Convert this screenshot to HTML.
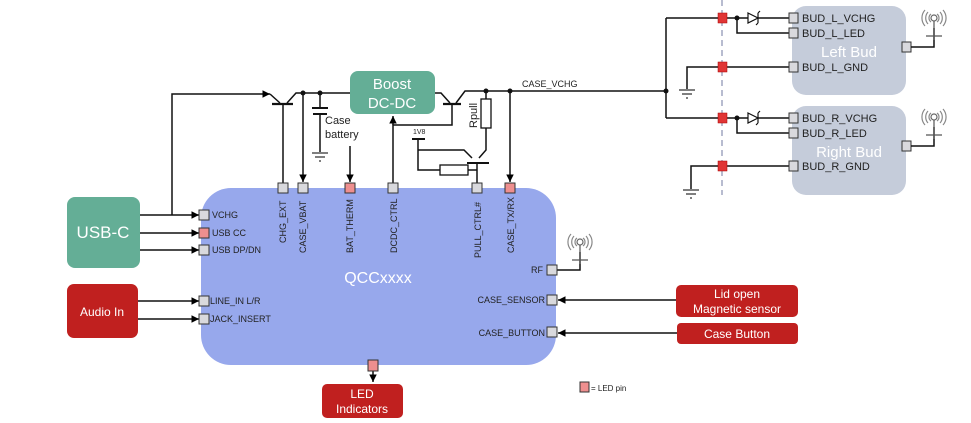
<!DOCTYPE html>
<html><head><meta charset="utf-8"><style>
html,body{margin:0;padding:0;background:#fff;}
svg{display:block;font-family:"Liberation Sans",Arial,sans-serif;}
</style></head><body>
<svg width="971" height="423" viewBox="0 0 971 423" xmlns="http://www.w3.org/2000/svg">
<defs>
<marker id="a" markerWidth="6" markerHeight="6" refX="5" refY="3" orient="auto"><path d="M0,0.5 L5,3 L0,5.5z" fill="#000"/></marker>
<g id="ant"><path d="M-6,-10 a9,9 0 0,0 0,12 M6,-10 a9,9 0 0,1 0,12 M-9,-12 a12,12 0 0,0 0,16 M9,-12 a12,12 0 0,1 0,16 M-3,-8 a5,5 0 0,0 0,8 M3,-8 a5,5 0 0,1 0,8" fill="none" stroke="#888" stroke-width="1.2"/><circle cx="0" cy="-4" r="3" fill="none" stroke="#666" stroke-width="1.2"/><path d="M0,-1 V18 M-8,14 H8" stroke="#555" stroke-width="1.2"/></g>
<g id="gnd"><path d="M-8,0 H8 M-5,4 H5 M-1,8 H1" stroke="#333" stroke-width="1.3"/></g>
</defs>
<style>
.w{stroke:#111;stroke-width:1.5;fill:none}
.p{fill:#d9d9dd;stroke:#333;stroke-width:1}
.r{fill:#ee8f8f;stroke:#333;stroke-width:1}
.rs{fill:#e03535;stroke:#a00;stroke-width:.5}
.t{font-size:9px;fill:#222}
.b{font-size:11px;fill:#222}
</style>

<line x1="722" y1="0" x2="722" y2="195" stroke="#b8bcd0" stroke-width="2" stroke-dasharray="6,4"/>

<rect x="792" y="6" width="114" height="89" rx="14" fill="#c5ccda"/>
<rect x="792" y="106" width="114" height="89" rx="14" fill="#c5ccda"/>
<text x="849" y="57" font-size="15" fill="#fff" text-anchor="middle">Left Bud</text>
<text x="849" y="157" font-size="15" fill="#fff" text-anchor="middle">Right Bud</text>

<rect x="201" y="188" width="355" height="177" rx="30" fill="#97a8ec"/>
<text x="378" y="283" font-size="16" fill="#fff" text-anchor="middle">QCCxxxx</text>

<rect x="67" y="197" width="73" height="71" rx="8" fill="#64ae96"/>
<text x="103" y="238" font-size="17" fill="#fff" text-anchor="middle">USB-C</text>
<rect x="67" y="284" width="71" height="54" rx="7" fill="#c0201f"/>
<text x="102" y="316" font-size="12" fill="#fff" text-anchor="middle">Audio In</text>
<rect x="322" y="384" width="81" height="34" rx="5" fill="#c0201f"/>
<text x="362" y="398" font-size="12" fill="#fff" text-anchor="middle">LED</text>
<text x="362" y="413" font-size="12" fill="#fff" text-anchor="middle">Indicators</text>
<rect x="676" y="285" width="122" height="32" rx="5" fill="#c0201f"/>
<text x="737" y="298" font-size="12" fill="#fff" text-anchor="middle">Lid open</text>
<text x="737" y="313" font-size="12" fill="#fff" text-anchor="middle">Magnetic sensor</text>
<rect x="677" y="323" width="121" height="21" rx="4" fill="#c0201f"/>
<text x="737" y="338" font-size="12" fill="#fff" text-anchor="middle">Case Button</text>
<rect x="350" y="71" width="85" height="43" rx="8" fill="#64ae96"/>
<text x="392" y="89" font-size="15" fill="#fff" text-anchor="middle">Boost</text>
<text x="392" y="108" font-size="15" fill="#fff" text-anchor="middle">DC-DC</text>

<path class="w" d="M140,215 H199" marker-end="url(#a)"/>
<path class="w" d="M140,233 H199" marker-end="url(#a)"/>
<path class="w" d="M140,250 H199" marker-end="url(#a)"/>
<path class="w" d="M138,301 H199" marker-end="url(#a)"/>
<path class="w" d="M138,319 H199" marker-end="url(#a)"/>
<path class="w" d="M172,215 V94 H270" marker-end="url(#a)"/>
<path class="w" d="M270,94 L280,103 M287,103 L296,93 H350 M283,104 V183"/>
<path d="M272,104 H293" stroke="#111" stroke-width="2.2"/>
<path class="w" d="M303,93 V182" marker-end="url(#a)"/>
<circle cx="303" cy="93" r="2.5" fill="#111"/><circle cx="320" cy="93" r="2.5" fill="#111"/>
<path class="w" d="M320,93 V108 M320,114 V152"/>
<path d="M312,108 H328 M313,114 H327" stroke="#111" stroke-width="2"/>
<use href="#gnd" x="320" y="153"/>
<text x="325" y="124" class="b">Case</text>
<text x="325" y="138" class="b">battery</text>
<path class="w" d="M350,146 V182" marker-end="url(#a)"/>
<path class="w" d="M435,93 H441 L450,103 M456,103 L465,91 H666 M452,104 V125 H393 V183"/>
<path d="M443,104 H461" stroke="#111" stroke-width="2.2"/>
<path class="w" d="M393,125 V116" marker-end="url(#a)"/>
<circle cx="486" cy="91" r="2.5" fill="#111"/><circle cx="510" cy="91" r="2.5" fill="#111"/>
<rect x="481" y="99" width="10" height="29" fill="#fff" stroke="#111" stroke-width="1.3"/>
<path class="w" d="M486,91 V99 M486,128 V150 L479,158 M472,158 L464,150 H418 V170 H440 M468,170 H477 M477,163 V183 M418,139 V150"/>
<path d="M467,163 H489 M412,139 H425" stroke="#111" stroke-width="2"/>
<rect x="440" y="165" width="28" height="10" fill="#fff" stroke="#111" stroke-width="1.3"/>
<text x="413" y="134" font-size="7" fill="#222">1V8</text>
<text x="477" y="128" class="b" transform="rotate(-90 477 128)">Rpull</text>
<path class="w" d="M510,91 V182" marker-end="url(#a)"/>
<text x="522" y="87" class="t">CASE_VCHG</text>
<circle cx="666" cy="91" r="2.5" fill="#111"/>
<path class="w" d="M666,18 V118 M666,18 H748 M666,118 H748 M737,18 V33 H790 M737,118 V133 H790 M758,18 H790 M758,118 H790"/>
<path class="w" d="M687,89 V67 H790 M691,189 V166 H790"/>
<use href="#gnd" x="687" y="90"/><use href="#gnd" x="691" y="190"/>
<circle cx="737" cy="18" r="2.5" fill="#111"/><circle cx="737" cy="118" r="2.5" fill="#111"/>
<path d="M748,13 L758,18 L748,23z M758,13 V23 M758,13 l2,-2 M758,23 l-2,2" fill="#fff" stroke="#111" stroke-width="1.2"/>
<path d="M748,113 L758,118 L748,123z M758,113 V123 M758,113 l2,-2 M758,123 l-2,2" fill="#fff" stroke="#111" stroke-width="1.2"/>
<rect x="718" y="13" width="9" height="10" class="rs"/><rect x="718" y="62" width="9" height="10" class="rs"/>
<rect x="718" y="113" width="9" height="10" class="rs"/><rect x="718" y="161" width="9" height="10" class="rs"/>
<rect x="789" y="13" width="9" height="10" class="p"/><rect x="789" y="28" width="9" height="10" class="p"/><rect x="789" y="62" width="9" height="10" class="p"/>
<rect x="789" y="113" width="9" height="10" class="p"/><rect x="789" y="128" width="9" height="10" class="p"/><rect x="789" y="161" width="9" height="10" class="p"/>
<text x="802" y="22" class="b">BUD_L_VCHG</text><text x="802" y="37" class="b">BUD_L_LED</text><text x="802" y="71" class="b">BUD_L_GND</text>
<text x="802" y="122" class="b">BUD_R_VCHG</text><text x="802" y="137" class="b">BUD_R_LED</text><text x="802" y="170" class="b">BUD_R_GND</text>
<rect x="902" y="42" width="9" height="10" class="p"/><rect x="902" y="141" width="9" height="10" class="p"/>
<path class="w" d="M911,47 H934 V28 M911,146 H934 V127"/>
<use href="#ant" x="934" y="22"/><use href="#ant" x="934" y="121"/>
<path class="w" d="M556,270 H580 V252"/>
<use href="#ant" x="580" y="246"/>
<path class="w" d="M676,300 H558" marker-end="url(#a)"/>
<path class="w" d="M677,333 H558" marker-end="url(#a)"/>
<path class="w" d="M373,371 V382" marker-end="url(#a)"/>

<rect x="278" y="183" width="10" height="10" class="p"/>
<rect x="298" y="183" width="10" height="10" class="p"/>
<rect x="345" y="183" width="10" height="10" class="r"/>
<rect x="388" y="183" width="10" height="10" class="p"/>
<rect x="472" y="183" width="10" height="10" class="p"/>
<rect x="505" y="183" width="10" height="10" class="r"/>
<rect x="199" y="210" width="10" height="10" class="p"/>
<rect x="199" y="228" width="10" height="10" class="r"/>
<rect x="199" y="245" width="10" height="10" class="p"/>
<rect x="199" y="296" width="10" height="10" class="p"/>
<rect x="199" y="314" width="10" height="10" class="p"/>
<rect x="547" y="265" width="10" height="10" class="p"/>
<rect x="547" y="295" width="10" height="10" class="p"/>
<rect x="547" y="327" width="10" height="10" class="p"/>
<rect x="368" y="360" width="10" height="11" class="r"/>
<rect x="580" y="382" width="9" height="10" class="r"/>
<text x="591" y="391" font-size="8" fill="#222">= LED pin</text>

<g class="t">
<text x="212" y="218" class="t">VCHG</text>
<text x="212" y="236" class="t">USB CC</text>
<text x="212" y="253" class="t">USB DP/DN</text>
<text x="210" y="304" class="t">LINE_IN L/R</text>
<text x="210" y="322" class="t">JACK_INSERT</text>
<text x="543" y="273" class="t" text-anchor="end">RF</text>
<text x="545" y="303" class="t" text-anchor="end">CASE_SENSOR</text>
<text x="545" y="336" class="t" text-anchor="end">CASE_BUTTON</text>
<text class="t" transform="translate(286,243) rotate(-90)">CHG_EXT</text>
<text class="t" transform="translate(306,253) rotate(-90)">CASE_VBAT</text>
<text class="t" transform="translate(353,253) rotate(-90)">BAT_THERM</text>
<text class="t" transform="translate(397,253) rotate(-90)">DCDC_CTRL</text>
<text class="t" transform="translate(481,258) rotate(-90)">PULL_CTRL#</text>
<text class="t" transform="translate(514,253) rotate(-90)">CASE_TX/RX</text>
</g>
</svg>
</body></html>
